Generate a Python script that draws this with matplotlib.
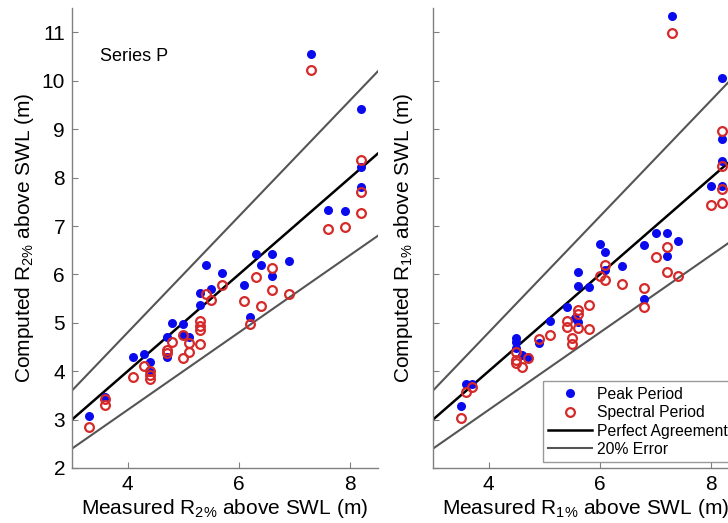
import numpy as np
import matplotlib
matplotlib.use("Agg")
from matplotlib import pyplot as plt

plt.rcParams['font.family'] = ['Liberation Sans', 'DejaVu Sans']
plt.rcParams['mathtext.default'] = 'regular'

# R2% panel (left)
r2_peak_x = [3.3, 3.6, 4.1, 4.3, 4.4, 4.4, 4.7, 4.7, 4.8, 5.0, 5.0, 5.1, 5.3, 5.3, 5.4,
             5.5, 5.7, 6.1, 6.2, 6.3, 6.4, 6.6, 6.6, 6.9, 7.3, 7.6, 7.9, 8.2, 8.2, 8.2]
r2_peak_y = [3.08, 3.47, 4.30, 4.36, 4.18, 3.99, 4.71, 4.30, 4.99, 4.98, 4.75, 4.70, 5.37, 5.62, 6.19,
             5.70, 6.02, 5.78, 5.11, 6.42, 6.19, 6.42, 5.97, 6.28, 10.55, 7.33, 7.32, 9.41, 8.23, 7.80]
r2_spec_x = [3.3, 3.6, 3.6, 4.1, 4.3, 4.4, 4.4, 4.4, 4.7, 4.7, 4.8, 5.0, 5.0, 5.1, 5.1, 5.3, 5.3, 5.3,
             5.3, 5.4, 5.5, 5.7, 6.1, 6.2, 6.3, 6.4, 6.6, 6.6, 6.9, 7.3, 7.6, 7.9, 8.2, 8.2, 8.2]
r2_spec_y = [2.85, 3.43, 3.31, 3.89, 4.11, 4.01, 3.92, 3.83, 4.44, 4.37, 4.61, 4.75, 4.28, 4.59, 4.39,
             5.04, 4.93, 4.85, 4.56, 5.59, 5.48, 5.78, 5.45, 4.98, 5.94, 5.35, 6.14, 5.68, 5.59, 10.22,
             6.94, 6.97, 8.36, 7.70, 7.27]

# R1% panel (right)
r1_peak_x = [3.5, 3.6, 3.7, 4.5, 4.5, 4.5, 4.6, 4.7, 4.9, 5.1, 5.4, 5.55, 5.6, 5.6, 5.6, 5.8,
             6.0, 6.1, 6.1, 6.4, 6.8, 6.8, 7.0, 7.2, 7.4, 7.2, 7.3, 8.0, 8.2, 8.2, 8.2, 8.2]
r1_peak_y = [3.29, 3.74, 3.74, 4.68, 4.61, 4.48, 4.33, 4.30, 4.59, 5.04, 5.32, 5.09, 5.02, 6.04, 5.77, 5.73,
             6.63, 6.46, 6.10, 6.17, 6.61, 5.49, 6.86, 6.86, 6.70, 6.38, 11.34, 7.83, 10.06, 8.79, 8.34, 7.82]
r1_spec_x = [3.5, 3.6, 3.7, 4.5, 4.5, 4.5, 4.6, 4.7, 4.9, 5.1, 5.4, 5.4, 5.5, 5.5, 5.6, 5.6, 5.6, 5.8,
             5.8, 6.0, 6.1, 6.1, 6.4, 6.8, 6.8, 7.0, 7.2, 7.2, 7.4, 7.3, 8.0, 8.2, 8.2, 8.2, 8.2]
r1_spec_y = [3.04, 3.56, 3.68, 4.40, 4.23, 4.16, 4.09, 4.27, 4.66, 4.75, 5.04, 4.92, 4.68, 4.56, 5.26,
             5.18, 4.90, 4.87, 5.37, 5.97, 6.19, 5.88, 5.81, 5.71, 5.32, 6.36, 6.56, 6.04, 5.97, 10.98,
             7.43, 8.96, 8.25, 7.76, 7.47]

blue = '#0a0aee'
red = '#d42a2a'
line_x = np.array([3.0, 8.5])

fig = plt.figure(figsize=(7.28, 5.23), dpi=100)
ax1 = fig.add_axes([0.0989, 0.1052, 0.4203, 0.879])
ax2 = fig.add_axes([0.5948, 0.1052, 0.4203, 0.879])

panels = [(ax1, r2_peak_x, r2_peak_y, r2_spec_x, r2_spec_y, '2'),
          (ax2, r1_peak_x, r1_peak_y, r1_spec_x, r1_spec_y, '1')]

for ax, px, py, sx, sy, p in panels:
    ax.plot(px, py, 'o', color=blue, markersize=6.5, markeredgewidth=0, label='Peak Period', zorder=3)
    ax.plot(sx, sy, 'o', markerfacecolor='none', markeredgecolor=red, markersize=6.3,
            markeredgewidth=1.6, label='Spectral Period', zorder=4)
    ax.plot(line_x, line_x, color='black', lw=1.8, label='Perfect Agreement', zorder=2)
    # 20% error bounds
    ax.plot(line_x, 1.2 * line_x, color='#555555', lw=1.5, label='20% Error', zorder=2)
    ax.plot(line_x, 0.8 * line_x, color='#555555', lw=1.5, zorder=2)

    ax.set_xlim(3, 8.5)
    ax.set_ylim(2, 11.5)
    ax.set_xticks([4, 6, 8])
    ax.set_yticks(range(2, 12))
    for s in ['top', 'right']:
        ax.spines[s].set_visible(False)
    for s in ['left', 'bottom']:
        ax.spines[s].set_color('#808080')
        ax.spines[s].set_linewidth(1.0)
    ax.tick_params(direction='in', length=4, color='#808080', labelsize=15, pad=5)
    ax.set_xlabel('Measured R$_{%s\\%%}$ above SWL (m)' % p, fontsize=15, labelpad=2)
    ax.set_ylabel('Computed R$_{%s\\%%}$ above SWL (m)' % p, fontsize=15, labelpad=4)

ax2.tick_params(labelleft=False)
ax2.yaxis.set_label_coords(-0.06, 0.5)

ax1.text(3.5, 10.5, 'Series P', fontsize=13, va='center', ha='left')

leg = ax2.legend(loc='lower left', bbox_to_anchor=(0.358, 0.012), fontsize=11.3,
                 frameon=True, fancybox=False, labelspacing=0.22, handlelength=2.8,
                 handletextpad=0.3, borderpad=0.35, borderaxespad=0)
leg.get_frame().set_edgecolor('#808080')
leg.get_frame().set_linewidth(1.0)

fig.savefig('out.png', dpi=100)
